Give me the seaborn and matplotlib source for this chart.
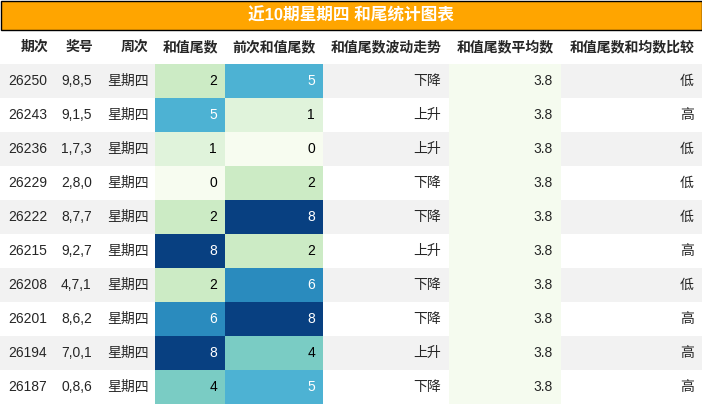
import matplotlib
matplotlib.use("Agg")
import matplotlib.pyplot as plt
import seaborn as sns
import pandas as pd
from matplotlib.patches import Rectangle

issues = ["26250","26243","26236","26229","26222","26215","26208","26201","26194","26187"]
numbers = ["9,8,5","9,1,5","1,7,3","2,8,0","8,7,7","9,2,7","4,7,1","8,6,2","7,0,1","0,8,6"]
weekday = ["星期四"]*10
tail = [2,5,1,0,2,8,2,6,8,4]
prev_tail = [5,1,0,2,8,2,6,8,4,5]
trend = ["下降","上升","上升","下降","下降","上升","下降","下降","上升","下降"]
avg = [3.8]*10
compare = ["低","高","低","低","低","高","低","高","高","高"]
headers = ["期次","奖号","周次","和值尾数","前次和值尾数","和值尾数波动走势","和值尾数平均数","和值尾数和均数比较"]
title = "近10期星期四 和尾统计图表"

sns.set_theme(style="white")
plt.rcParams['font.family'] = ['Liberation Sans', 'Noto Sans CJK SC', 'DejaVu Sans']

W, H = 702, 405
fig = plt.figure(figsize=(W/100, H/100), dpi=100)
ax = fig.add_axes([0, 0, 1, 1])
ax.set_xlim(0, W); ax.set_ylim(H, 0); ax.axis("off")

cols = [0, 55, 100, 155, 225, 323, 449, 561, 702]
head_top, row0, rh = 30, 64, 34

ax.add_patch(Rectangle((0.5, 0.5), W-1, 29, facecolor="#FFA500", edgecolor="black", lw=1))
ax.text(W/2, 15, title, ha="center", va="center", color="white", fontsize=12, fontweight="bold")
for i, h in enumerate(headers):
    ax.text(cols[i+1]-7, (head_top+row0)/2, h, ha="right", va="center", fontsize=10, fontweight="bold")

for r in range(10):
    y = row0 + r*rh
    if r % 2 == 0:
        ax.add_patch(Rectangle((0, y), cols[3], rh, facecolor="#f2f2f2", edgecolor="none"))
        ax.add_patch(Rectangle((cols[5], y), W-cols[5], rh, facecolor="#f2f2f2", edgecolor="none"))
    ax.add_patch(Rectangle((cols[6], y), cols[7]-cols[6], rh, facecolor="#f5fbef", edgecolor="none"))
    yc = y + rh/2
    ax.text(8, yc, issues[r], ha="left", va="center", fontsize=10)
    ax.text(61, yc, numbers[r], ha="left", va="center", fontsize=10)
    ax.text(107, yc, weekday[r], ha="left", va="center", fontsize=10)
    ax.text(cols[6]-8, yc, trend[r], ha="right", va="center", fontsize=10)
    ax.text(cols[7]-8, yc, f"{avg[r]:.1f}", ha="right", va="center", fontsize=10)
    ax.text(cols[8]-8, yc, compare[r], ha="right", va="center", fontsize=10)

for c, vals in enumerate([tail, prev_tail]):
    x0, x1 = cols[3+c], cols[4+c]
    hax = fig.add_axes([x0/W, 1-(row0+10*rh)/H, (x1-x0)/W, 10*rh/H])
    sns.heatmap(pd.DataFrame({"v": vals}), ax=hax, cmap="GnBu", vmin=0, vmax=8, cbar=False,
                annot=False, xticklabels=False, yticklabels=False)
    hax.axis("off")
    for r, v in enumerate(vals):
        ax.text(x1-8, row0 + r*rh + rh/2, str(v), ha="right", va="center",
                fontsize=10, color="white" if v >= 5 else "black", zorder=5)
    hax.set_zorder(1)
ax.set_zorder(2); ax.patch.set_visible(False)
fig.savefig("out.png", dpi=100)
